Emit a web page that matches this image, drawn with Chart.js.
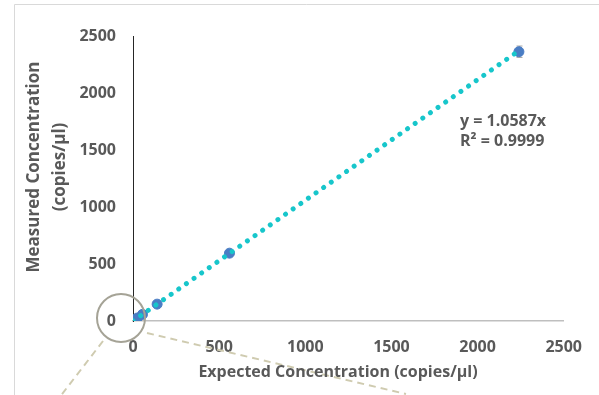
<!DOCTYPE html>
<html>
<head>
<meta charset="utf-8">
<script src="https://cdn.jsdelivr.net/npm/chart.js@4"></script>
<style>
  html, body { margin:0; padding:0; background:#fff; overflow:hidden; }
  canvas { display:block; }
</style>
</head>
<body>
<canvas id="c" width="599" height="395"></canvas>
<script>
// data
const expected = [0, 10, 25, 55, 140, 560, 2240];
const measured = [0, 11, 26, 58, 148, 595, 2362];
const errY     = [0, 0, 0, 0, 0, 0, 50];
const trendX   = [0, 2240];
const trendY   = [0, 2371];
const axisTicks = [0, 500, 1000, 1500, 2000, 2500];
const eqLines  = ['y = 1.0587x', 'R² = 0.9999'];
const xTitle   = 'Expected Concentration (copies/µl)';
const yTitle   = ['Measured Concentration', '(copies/µl)'];

const GREY = '#595959';
const FONT = '"Open Sans", sans-serif';

// frame, zoom circle, dashed callout lines, axis titles, equation, error bars
const extras = {
  id: 'extras',
  beforeDraw(chart) {
    const ctx = chart.ctx;
    ctx.save();
    ctx.strokeStyle = '#d9d9d9';
    ctx.lineWidth = 1;
    ctx.beginPath();
    ctx.moveTo(14.5, 395); ctx.lineTo(14.5, 4.5); ctx.lineTo(599, 4.5);
    ctx.stroke();
    ctx.restore();
  },
  beforeDatasetsDraw(chart) {
    const ctx = chart.ctx, xs = chart.scales.x, ys = chart.scales.y;
    ctx.save();
    ctx.strokeStyle = '#a6a6a6';
    ctx.lineWidth = 1;
    expected.forEach((v, i) => {
      if (!errY[i]) return;
      const px = Math.round(xs.getPixelForValue(v)) + 0.5;
      const t = ys.getPixelForValue(measured[i] + errY[i]);
      const b = ys.getPixelForValue(measured[i] - errY[i]);
      ctx.beginPath();
      ctx.moveTo(px, t); ctx.lineTo(px, b);
      ctx.moveTo(px - 3, t); ctx.lineTo(px + 3, t);
      ctx.moveTo(px - 3, b); ctx.lineTo(px + 3, b);
      ctx.stroke();
    });
    ctx.restore();
  },
  afterDatasetsDraw(chart) {
    const ctx = chart.ctx, xs = chart.scales.x, ys = chart.scales.y;
    ctx.save();
    // zoom circle around the origin
    const ox = xs.getPixelForValue(0), oy = ys.getPixelForValue(0);
    const cx = ox - 12, cy = oy - 3, r = 24;
    ctx.strokeStyle = '#a5a396';
    ctx.lineWidth = 2;
    ctx.beginPath();
    ctx.arc(cx, cy, r, 0, Math.PI * 2);
    ctx.stroke();
    ctx.strokeStyle = '#cfcbb0';
    ctx.setLineDash([7, 5]);
    ctx.beginPath();
    ctx.moveTo(cx - 18, cy + 23); ctx.lineTo(cx - 62, cy + 80);
    ctx.moveTo(cx + 26, cy + 15); ctx.lineTo(cx + 285, cy + 76);
    ctx.stroke();
    ctx.setLineDash([]);

    ctx.fillStyle = GREY;
    ctx.textBaseline = 'middle';
    // regression label
    ctx.font = 'bold 16px ' + FONT;
    ctx.textAlign = 'left';
    eqLines.forEach((s, i) => ctx.fillText(s, 460, 121 + i * 20));
    // axis titles
    ctx.textAlign = 'center';
    ctx.font = 'bold 16px ' + FONT;
    ctx.fillText(xTitle, 338, 372);
    ctx.font = 'bold 17px ' + FONT;
    ctx.translate(0, 167);
    ctx.rotate(-Math.PI / 2);
    yTitle.forEach((s, i) => ctx.fillText(s, 0, 34 + i * 26));
    ctx.restore();
  }
};

new Chart(document.getElementById('c'), {
  type: 'scatter',
  data: {
    datasets: [
      {
        label: 'Measured',
        data: expected.map((x, i) => ({ x, y: measured[i] })),
        backgroundColor: '#4a7dc4',
        borderColor: '#4a7dc4',
        pointRadius: 5,
        order: 2
      },
      {
        type: 'line',
        label: 'Linear',
        data: trendX.map((x, i) => ({ x, y: trendY[i] })),
        borderColor: '#17c6cb',
        borderWidth: 5,
        borderCapStyle: 'round',
        borderDash: [0.01, 9.3],
        pointRadius: 0,
        fill: false,
        order: 1
      }
    ]
  },
  options: {
    responsive: false,
    animation: false,
    devicePixelRatio: 1,
    layout: { padding: { left: 14, right: 31, top: 36, bottom: 0 } },
    plugins: { legend: { display: false }, tooltip: { enabled: false } },
    scales: {
      x: {
        type: 'linear', min: 0, max: 2500,
        afterBuildTicks: s => { s.ticks = axisTicks.map(v => ({ value: v })); },
        afterFit: s => { s.height = 74; },
        grid: { display: false, drawTicks: false },
        border: { display: true, color: '#bfbfbf', width: 1.5 },
        ticks: { color: GREY, font: { family: FONT, size: 16, weight: 'bold' }, padding: 17, maxRotation: 0,
                 callback: v => String(v) }
      },
      y: {
        type: 'linear', min: 0, max: 2500,
        afterBuildTicks: s => { s.ticks = axisTicks.map(v => ({ value: v })); },
        afterFit: s => { s.width = 119; },
        grid: { display: false, drawTicks: false },
        border: { display: true, color: '#262626', width: 1 },
        ticks: { color: GREY, font: { family: FONT, size: 16, weight: 'bold' }, padding: 17,
                 callback: v => String(v) }
      }
    }
  },
  plugins: [extras]
});
</script>
</body>
</html>
